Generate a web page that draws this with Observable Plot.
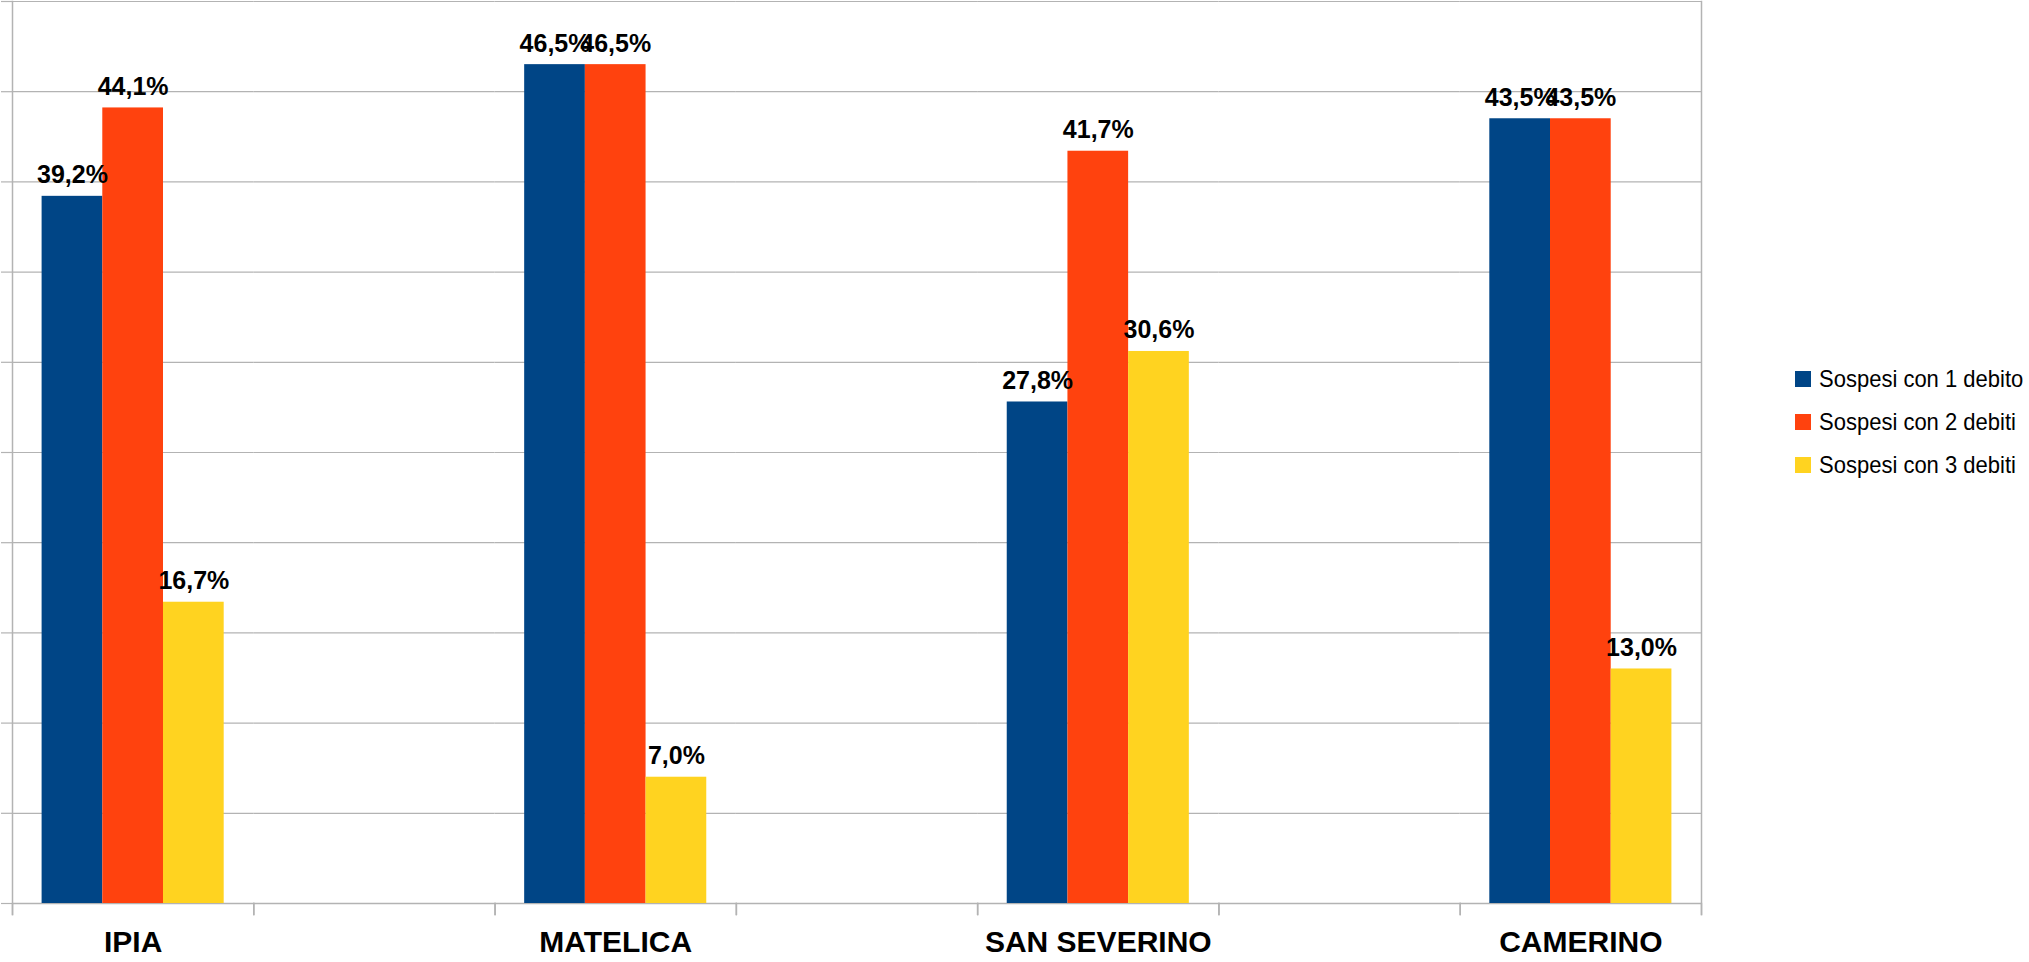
<!DOCTYPE html>
<html>
<head>
<meta charset="utf-8">
<script src="https://cdn.jsdelivr.net/npm/d3@7"></script>
<script src="https://cdn.jsdelivr.net/npm/@observablehq/plot@0.6"></script>
<style>
  html, body { margin: 0; padding: 0; background: #fff; }
  #wrap { position: relative; width: 2029px; height: 962px; font-family: "Liberation Sans", Arial, sans-serif; }
  #legend { position: absolute; left: 1795px; top: 357px; font-size: 22px; color: #000; }
  .row { display: flex; align-items: center; height: 43px; }
  .row span { display: inline-block; transform: scaleY(1.12); }
  .sw { width: 16px; height: 16px; margin-right: 8px; }
  [aria-label="fx-axis tick label"] text { font-weight: bold; }
</style>
</head>
<body>
<div id="wrap"><div id="legend"></div></div>
<script>
const categories = ["IPIA", "MATELICA", "SAN SEVERINO", "CAMERINO"];
const series = ["Sospesi con 1 debito", "Sospesi con 2 debiti", "Sospesi con 3 debiti"];
const values1 = [39.2, 46.5, 27.8, 43.5];
const values2 = [44.1, 46.5, 41.7, 43.5];
const values3 = [16.7, 7.0, 30.6, 13.0];
const colors = ["#004586", "#ff420e", "#ffd320"];
const yTicks = [0, 5, 10, 15, 20, 25, 30, 35, 40, 45, 50];

// empty category slots between the named ones (as in the original chart)
const slots = categories.flatMap((c, i) => i < categories.length - 1 ? [c, " ".repeat(i + 1)] : [c]);
const seriesValues = [values1, values2, values3];
const rows = [];
categories.forEach((c, i) => series.forEach((s, j) => rows.push({cat: c, series: s, value: seriesValues[j][i]})));
const fmt = v => v.toFixed(1).replace(".", ",") + "%";
const grey = "#b3b3b3";
const H = 962, mTop = 1, mBottom = 59;

const chart = Plot.plot({
  width: 2029,
  height: H,
  marginLeft: 12,
  marginRight: 328,
  marginTop: mTop,
  marginBottom: mBottom,
  style: {fontFamily: "Liberation Sans, Arial, sans-serif", background: "#fff"},
  fx: {domain: slots, padding: 0, round: false, label: null},
  x: {domain: series, paddingInner: 0, paddingOuter: 0.4876, round: false, axis: null},
  y: {domain: [0, 50], axis: null},
  color: {domain: series, range: colors},
  marks: [
    Plot.gridY(yTicks, {stroke: grey, strokeOpacity: 1, strokeWidth: 1.2}),
    Plot.ruleY(slots, {fx: d => d, y: 0, stroke: grey, strokeWidth: 1.5}),
    Plot.axisY(yTicks, {tickSize: 11, tickFormat: () => "", stroke: grey, strokeWidth: 1.2, label: null}),
    Plot.frame({anchor: "left", insetTop: H - mTop - mBottom, insetBottom: -11, stroke: grey, strokeWidth: 1.5}),
    Plot.frame({anchor: "right", insetTop: H - mTop - mBottom, insetBottom: -11, stroke: grey, strokeWidth: 1.5}),
    Plot.frame({facet: "super", anchor: "left", insetBottom: -11, stroke: grey, strokeWidth: 1.5}),
    Plot.frame({facet: "super", anchor: "right", insetBottom: -11, stroke: grey, strokeWidth: 1.5}),
    Plot.barY(rows, {fx: "cat", x: "series", y: "value", fill: "series"}),
    Plot.text(rows, {fx: "cat", x: "series", y: "value", text: d => fmt(d.value), dy: -13, lineAnchor: "bottom", fontSize: 25, fontWeight: "bold", fill: "#000"}),
    Plot.axisFx({anchor: "bottom", tickSize: 0, tickPadding: 27, fontSize: 30, fontWeight: "bold", label: null})
  ]
});
document.getElementById("wrap").prepend(chart);

const legend = document.getElementById("legend");
series.forEach((s, i) => {
  const row = document.createElement("div");
  row.className = "row";
  const sw = document.createElement("div");
  sw.className = "sw";
  sw.style.background = colors[i];
  const t = document.createElement("span");
  t.textContent = s;
  row.append(sw, t);
  legend.append(row);
});
</script>
</body>
</html>
